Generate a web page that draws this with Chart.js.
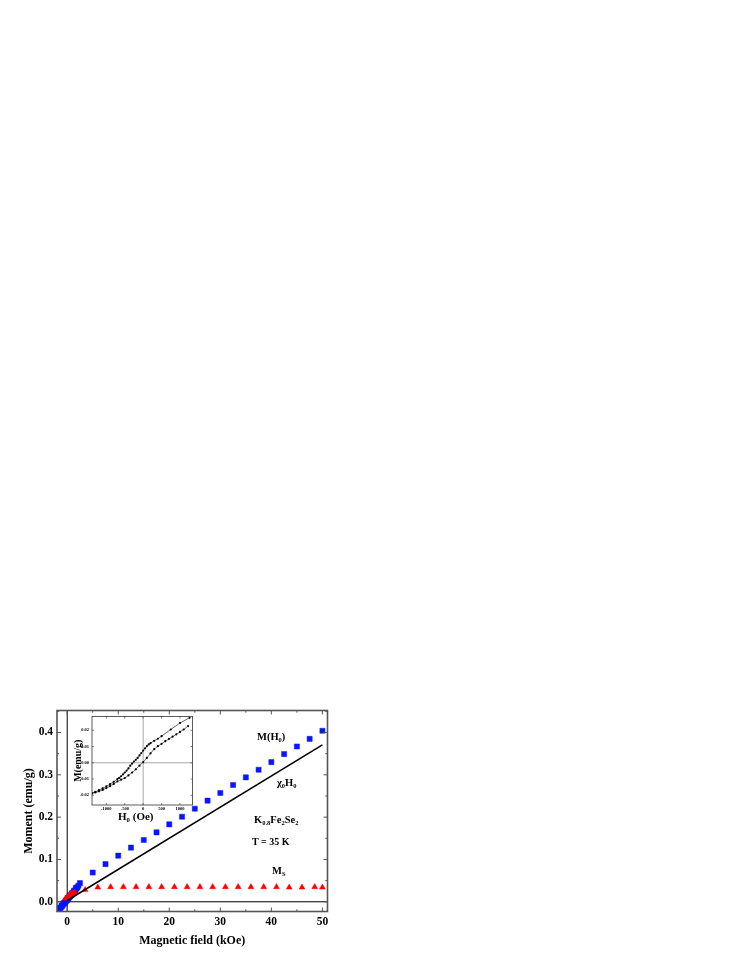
<!DOCTYPE html>
<html>
<head>
<meta charset="utf-8">
<script src="https://cdn.jsdelivr.net/npm/chart.js@4.4.0/dist/chart.umd.min.js"></script>
<style>
    html, body { margin: 0; padding: 0; background: #fff; }
    #wrap { position: relative; width: 747px; height: 967px; overflow: hidden; }
    canvas { position: absolute; }
    .lbl {
        position: absolute;
        font-family: "Liberation Serif", "Times New Roman", serif;
        font-weight: bold;
        color: #000;
        white-space: nowrap;
        line-height: 1;
    }
    .lbl sub { font-size: 62%; vertical-align: -0.3em; line-height: 0; }
</style>
</head>
<body>
<div id="wrap">
    <canvas id="mainChart" width="747" height="967" style="left:0;top:0;width:747px;height:967px"></canvas>
    <canvas id="insetChart" width="130" height="116" style="left:70px;top:710px;width:130px;height:116px"></canvas>

    <div class="lbl" style="left:257px;top:732px;font-size:10.5px">M(H<sub>0</sub>)</div>
    <div class="lbl" style="left:277px;top:778px;font-size:10.5px">&chi;<sub>0</sub>H<sub>0</sub></div>
    <div class="lbl" style="left:254px;top:815px;font-size:10.5px">K<sub>0.8</sub>Fe<sub>2</sub>Se<sub>2</sub></div>
    <div class="lbl" style="left:252px;top:837px;font-size:10px">T = 35 K</div>
    <div class="lbl" style="left:272px;top:866px;font-size:10.5px">M<sub>S</sub></div>
    <div class="lbl" style="left:118px;top:811px;font-size:11px">H<sub>0</sub> (Oe)</div>
</div>

<script>
// ---- main plot data (field in kOe, moment in emu/g) ----
const mainXTicks = [0, 10, 20, 30, 40, 50];
const mainXMinor = [5, 15, 25, 35, 45];
const mainYTicks = [0.0, 0.1, 0.2, 0.3, 0.4];
const mainYMinor = [0.05, 0.15, 0.25, 0.35, 0.45];

// M(H0) - blue squares
const mField = [-2.0, -1.9, -1.8, -1.6, -1.5, -1.4, -1.2, -1.1, -1.0, -0.8, -0.7, -0.6, -0.4, -0.3, -0.2,
    0.0, 0.1, 0.2, 0.4, 0.5, 0.6, 0.8, 0.9, 1.0, 1.2, 1.3, 1.4, 1.6, 1.7, 1.8, 2.0, 2.2, 2.5,
    5, 7.5, 10, 12.5, 15, 17.5, 20, 22.5, 25, 27.5, 30, 32.5, 35, 37.5, 40, 42.5, 45, 47.5, 50];
const mMoment = [-0.025, -0.021, -0.022, -0.019, -0.015, -0.016, -0.013, -0.009, -0.010, -0.007, -0.003, -0.004, -0.001, 0.003, 0.002,
    0.004, 0.009, 0.007, 0.010, 0.015, 0.013, 0.016, 0.020, 0.018, 0.021, 0.026, 0.024, 0.027, 0.033, 0.031, 0.034, 0.038, 0.044,
    0.069, 0.089, 0.109, 0.128, 0.146, 0.164, 0.183, 0.201, 0.220, 0.239, 0.257, 0.276, 0.294, 0.312, 0.330, 0.349, 0.367, 0.385, 0.404];

// Ms - red triangles
const sField = [-0.3, 0.0, 0.2, 0.4, 0.6, 0.8, 1.0, 1.2, 1.5, 3.5,
    6, 8.5, 11, 13.5, 16, 18.5, 21, 23.5, 26, 28.5, 31, 33.5, 36, 38.5, 41, 43.5, 46, 48.5, 50];
const sMoment = [0.008, 0.011, 0.013, 0.015, 0.017, 0.018, 0.019, 0.020, 0.022, 0.028,
    0.034, 0.035, 0.035, 0.035, 0.035, 0.035, 0.035, 0.035, 0.035, 0.035, 0.035, 0.035, 0.035, 0.035, 0.035, 0.034, 0.034, 0.035, 0.034];

// chi0*H0 straight line
const chiField = [0, 50];
const chiMoment = [0.003, 0.371];

// ---- inset data (field in Oe, moment in emu/g) ----
const insetXTicks = [-1000, -500, 0, 500, 1000];
const insetYTicks = [-0.02, -0.01, 0.0, 0.01, 0.02];

const upField = [1260, 1000, 750, 500, 400, 300, 200, 150, 100, 50, 0, -50, -100, -150, -200, -250, -300,
    -350, -400, -450, -500, -550, -600, -650, -700, -800, -900, -1000, -1100, -1200, -1300, -1390];
const upMoment = [0.0277, 0.0245, 0.0205, 0.0164, 0.0148, 0.0135, 0.0121, 0.0113, 0.0102, 0.0089, 0.0075, 0.0060, 0.0045, 0.0030, 0.0018, 0.0008, -0.0005,
    -0.0018, -0.0035, -0.0048, -0.0060, -0.0072, -0.0083, -0.0093, -0.0100, -0.0117, -0.0132, -0.0145, -0.0157, -0.0168, -0.0179, -0.0188];

const lowField = [-1390, -1300, -1200, -1100, -1000, -900, -800, -700, -600, -500, -400, -300, -200, -100,
    0, 100, 200, 300, 400, 500, 600, 700, 800, 900, 1000, 1100, 1220];
const lowMoment = [-0.0188, -0.0183, -0.0176, -0.0167, -0.0156, -0.0144, -0.0130, -0.0115, -0.0104, -0.0094, -0.0078, -0.0060, -0.0040, -0.0018,
    0.0004, 0.0030, 0.0058, 0.0084, 0.0102, 0.0117, 0.0133, 0.0147, 0.0161, 0.0175, 0.0190, 0.0205, 0.0226];

const FONT = '"Liberation Serif", "Times New Roman", serif';
const toPoints = (xs, ys) => xs.map((x, i) => ({ x: x, y: ys[i] }));

// frame + inward ticks on all four sides
function frameTicks(opts) {
    return {
        id: 'frameTicks',
        beforeDatasetsDraw(chart) {
            if (!opts.fillArea) return;
            const a = chart.chartArea;
            chart.ctx.save();
            chart.ctx.fillStyle = '#fff';
            chart.ctx.fillRect(a.left, a.top, a.right - a.left, a.bottom - a.top);
            chart.ctx.restore();
        },
        afterDraw(chart) {
            const ctx = chart.ctx;
            const a = chart.chartArea;
            const xs = chart.scales.x;
            const ys = chart.scales.y;
            ctx.save();
            ctx.strokeStyle = opts.color;
            ctx.lineWidth = opts.tickWidth;
            ctx.beginPath();
            const xt = (v, len) => {
                const p = xs.getPixelForValue(v);
                ctx.moveTo(p, a.bottom); ctx.lineTo(p, a.bottom - len);
                ctx.moveTo(p, a.top); ctx.lineTo(p, a.top + len);
            };
            const yt = (v, len) => {
                const p = ys.getPixelForValue(v);
                ctx.moveTo(a.left, p); ctx.lineTo(a.left + len, p);
                ctx.moveTo(a.right, p); ctx.lineTo(a.right - len, p);
            };
            opts.xMajor.forEach(v => xt(v, opts.major));
            opts.xMinor.forEach(v => xt(v, opts.minor));
            opts.yMajor.forEach(v => yt(v, opts.major));
            opts.yMinor.forEach(v => yt(v, opts.minor));
            ctx.stroke();
            ctx.lineWidth = opts.frameWidth;
            ctx.strokeRect(a.left, a.top, a.right - a.left, a.bottom - a.top);
            ctx.restore();
        }
    };
}

const mainXMin = -2, mainXMax = 51, mainYMin = -0.023, mainYMax = 0.452;
const noGrid = { display: false, drawTicks: false, tickLength: 0 };

new Chart(document.getElementById('mainChart'), {
    type: 'scatter',
    data: {
        datasets: [
            {
                label: 'chi0H0',
                data: toPoints(chiField, chiMoment),
                showLine: true,
                borderColor: '#000',
                borderWidth: 1.5,
                pointRadius: 0,
                order: 0
            },
            {
                label: 'Ms',
                data: toPoints(sField, sMoment),
                pointStyle: 'triangle',
                pointRadius: 3.4,
                backgroundColor: '#ff0000',
                pointBorderColor: '#ff0000',
                pointBorderWidth: 0.5,
                order: 1
            },
            {
                label: 'M(H0)',
                data: toPoints(mField, mMoment),
                pointStyle: 'rect',
                pointRadius: 3.6,
                backgroundColor: '#0a14ff',
                pointBorderColor: '#0a14ff',
                pointBorderWidth: 0.5,
                order: 2
            },
            {
                label: 'zero field',
                data: [{ x: 0, y: mainYMin }, { x: 0, y: mainYMax }],
                showLine: true,
                borderColor: '#000',
                borderWidth: 1,
                pointRadius: 0,
                order: 3
            },
            {
                label: 'zero moment',
                data: [{ x: mainXMin, y: 0 }, { x: mainXMax, y: 0 }],
                showLine: true,
                borderColor: '#000',
                borderWidth: 1,
                pointRadius: 0,
                order: 3
            }
        ]
    },
    options: {
        responsive: false,
        animation: false,
        layout: { padding: { left: 0, top: 710.5, right: 419.5, bottom: 15.5 } },
        plugins: { legend: { display: false }, tooltip: { enabled: false } },
        scales: {
            x: {
                type: 'linear',
                min: mainXMin,
                max: mainXMax,
                afterBuildTicks: s => { s.ticks = mainXTicks.map(v => ({ value: v })); },
                afterFit: s => { s.height = 40; },
                ticks: {
                    autoSkip: false,
                    maxRotation: 0,
                    padding: 4,
                    color: '#000',
                    font: { family: FONT, size: 11.5, weight: 'bold' },
                    callback: v => String(v)
                },
                grid: noGrid,
                border: { display: false },
                title: {
                    display: true,
                    text: 'Magnetic field (kOe)',
                    color: '#000',
                    font: { family: FONT, size: 12, weight: 'bold' },
                    padding: { top: 0, bottom: 3 }
                }
            },
            y: {
                type: 'linear',
                min: mainYMin,
                max: mainYMax,
                afterBuildTicks: s => { s.ticks = mainYTicks.map(v => ({ value: v })); },
                afterFit: s => { s.width = 57; },
                ticks: {
                    autoSkip: false,
                    padding: 4,
                    color: '#000',
                    font: { family: FONT, size: 11.5, weight: 'bold' },
                    callback: v => v.toFixed(1)
                },
                grid: noGrid,
                border: { display: false },
                title: {
                    display: true,
                    text: 'Moment (emu/g)',
                    color: '#000',
                    font: { family: FONT, size: 12, weight: 'bold' },
                    padding: { top: 22, bottom: 0 }
                }
            }
        }
    },
    plugins: [frameTicks({
        color: '#555', tickWidth: 1, frameWidth: 1.6, major: 4, minor: 2.2,
        xMajor: mainXTicks, xMinor: mainXMinor, yMajor: mainYTicks, yMinor: mainYMinor
    })]
});

new Chart(document.getElementById('insetChart'), {
    type: 'scatter',
    data: {
        datasets: [
            {
                label: 'upper branch',
                data: toPoints(upField, upMoment),
                showLine: true,
                borderColor: '#000',
                borderWidth: 0.6,
                pointRadius: 1.1,
                backgroundColor: '#000',
                pointBorderWidth: 0,
                order: 0
            },
            {
                label: 'lower branch',
                data: toPoints(lowField, lowMoment),
                showLine: true,
                borderColor: '#000',
                borderWidth: 0.6,
                pointRadius: 1.1,
                backgroundColor: '#000',
                pointBorderWidth: 0,
                order: 0
            },
            {
                label: 'H=0',
                data: [{ x: 0, y: -0.026 }, { x: 0, y: 0.0285 }],
                showLine: true,
                borderColor: '#a8a8a8',
                borderWidth: 1,
                pointRadius: 0,
                order: 2
            },
            {
                label: 'M=0',
                data: [{ x: -1390, y: 0 }, { x: 1340, y: 0 }],
                showLine: true,
                borderColor: '#a8a8a8',
                borderWidth: 1,
                pointRadius: 0,
                order: 2
            }
        ]
    },
    options: {
        responsive: false,
        animation: false,
        layout: { padding: { left: 0, top: 6.5, right: 7.5, bottom: 0 } },
        plugins: { legend: { display: false }, tooltip: { enabled: false } },
        scales: {
            x: {
                type: 'linear',
                min: -1390,
                max: 1340,
                afterBuildTicks: s => { s.ticks = insetXTicks.map(v => ({ value: v })); },
                afterFit: s => { s.height = 21; },
                ticks: {
                    autoSkip: false,
                    maxRotation: 0,
                    padding: 1.6,
                    color: '#000',
                    font: { family: FONT, size: 4.5, weight: 'bold' },
                    callback: v => String(v)
                },
                grid: noGrid,
                border: { display: false }
            },
            y: {
                type: 'linear',
                min: -0.026,
                max: 0.0285,
                afterBuildTicks: s => { s.ticks = insetYTicks.map(v => ({ value: v })); },
                afterFit: s => { s.width = 22; },
                ticks: {
                    autoSkip: false,
                    padding: 3,
                    color: '#000',
                    font: { family: FONT, size: 4.5, weight: 'bold' },
                    callback: v => v.toFixed(2)
                },
                grid: noGrid,
                border: { display: false },
                title: {
                    display: true,
                    text: 'M(emu/g)',
                    color: '#000',
                    font: { family: FONT, size: 10, weight: 'bold' },
                    padding: { top: 2, bottom: 0 }
                }
            }
        }
    },
    plugins: [frameTicks({
        color: '#333', tickWidth: 0.6, frameWidth: 0.8, major: 2, minor: 1,
        fillArea: true,
        xMajor: insetXTicks, xMinor: [], yMajor: insetYTicks, yMinor: []
    })]
});
</script>
</body>
</html>
